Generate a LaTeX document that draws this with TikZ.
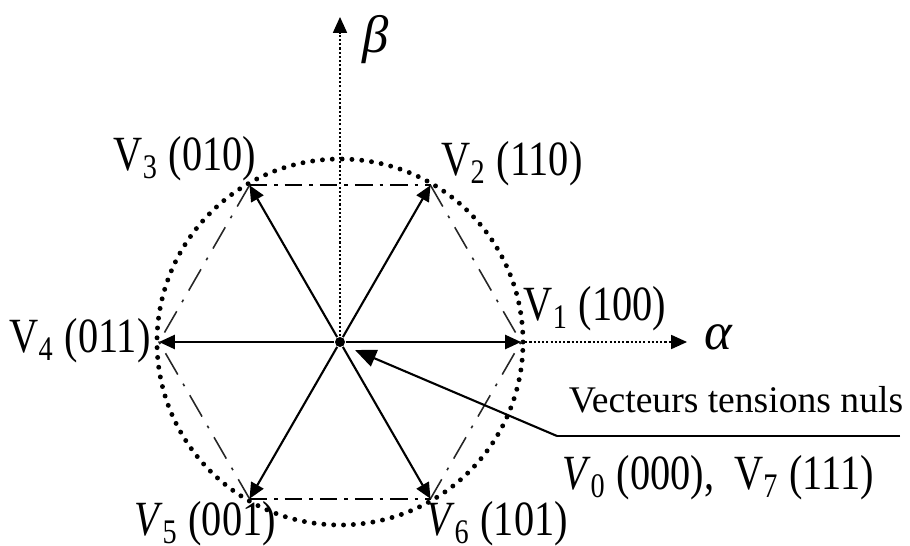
\documentclass[tikz,border=0pt]{standalone}
\usepackage{fontspec}
\setmainfont{Liberation Serif}
\newfontfamily\labfont{Liberation Serif}[FakeStretch=0.82]
\usetikzlibrary{positioning, arrows.meta}

\begin{document}
\begin{tikzpicture}[
		vec/.style={-{Triangle[length=4.5pt,width=4pt]}, line width=0.6pt},
		axe/.style={-{Triangle[length=4.5pt,width=4pt]}, line width=0.35pt, dash pattern=on 0.6pt off 0.6pt},
		hexh/.style={line width=0.6pt, dash pattern=on 5pt off 2pt on 1pt off 2pt},
		hexd/.style={line width=0.45pt, black!85, dash pattern=on 7pt off 3pt on 0.8pt off 3pt},
		lab/.style={font=\labfont\fontsize{14}{16}\selectfont, inner sep=1pt}
	]
		% --- cadre ---
		\useasboundingbox (-3.40,-2.04) rectangle (5.70,3.42);
		\def\R{1.81}
		\def\Rc{1.83}
		
		% sommets de l'hexagone
		\node[circle, fill, inner sep=0pt, minimum size=0.1cm] (O) at (0,0) {};
		\foreach \i/\ang in {1/0, 2/60, 3/120, 4/180, 5/240, 6/300}
			\coordinate (V\i) at (\ang:\R);
		
		% cercle pointillé
		\draw[line width=1.4pt, line cap=round, dash pattern=on 0pt off 2.8pt] (O) circle (\Rc cm);
		
		% axes alpha et beta
		\coordinate (Aend) at (3.47,0);
		\coordinate (Bend) at (0,3.25);
		\draw[axe] (V1) -- (Aend);
		\draw[axe] (O) -- (Bend);
		\node[font=\fontsize{15}{17}\selectfont\itshape, anchor=west] (alpha) at (3.52,0.05) {α};
		\node[font=\fontsize{15}{17}\selectfont\itshape, anchor=west] (beta) at (0.10,3.02) {β};
		
		% côtés de l'hexagone
		\draw[hexh] (V3) -- (V2);
		\draw[hexh] (V5) -- (V6);
		\draw[hexd] (V2) -- (V1) -- (V6);
		\draw[hexd] (V3) -- (V4) -- (V5);
		
		% vecteurs tensions actifs
		\foreach \i in {1,...,6}
			\draw[vec] (O) -- (V\i);
		
		% étiquettes
		\node[lab] (l1) at (2.55,0.33) {V\textsubscript{1} (100)};
		\node[lab] (l2) at (1.72,1.78) {V\textsubscript{2} (110)};
		\node[lab] (l3) at (-1.55,1.83) {V\textsubscript{3} (010)};
		\node[lab] (l4) at (-2.60,0.01) {V\textsubscript{4} (011)};
		\node[lab] (l5) at (-1.35,-1.82) {\textit{V}\textsubscript{5} (001)};
		\node[lab] (l6) at (1.57,-1.82) {\textit{V}\textsubscript{6} (101)};
		
		% vecteurs nuls
		\coordinate (kink) at (2.17,-0.94);
		\coordinate (lend) at (5.60,-0.94);
		\coordinate (tip) at (0.15,-0.08);
		\draw[line width=0.6pt] (lend) -- (kink);
		\draw[-{Triangle[length=6pt,width=5pt]}, line width=0.6pt] (kink) -- (tip);
		\node[font=\fontsize{10.7}{12}\selectfont, inner sep=0pt] (nuls) at (3.96,-0.58) {Vecteurs tensions nuls};
		\node[lab] (l07) at (3.78,-1.36) {\textit{V}\textsubscript{0} (000),~ V\textsubscript{7} (111)};
		
	\end{tikzpicture}
\end{document}
